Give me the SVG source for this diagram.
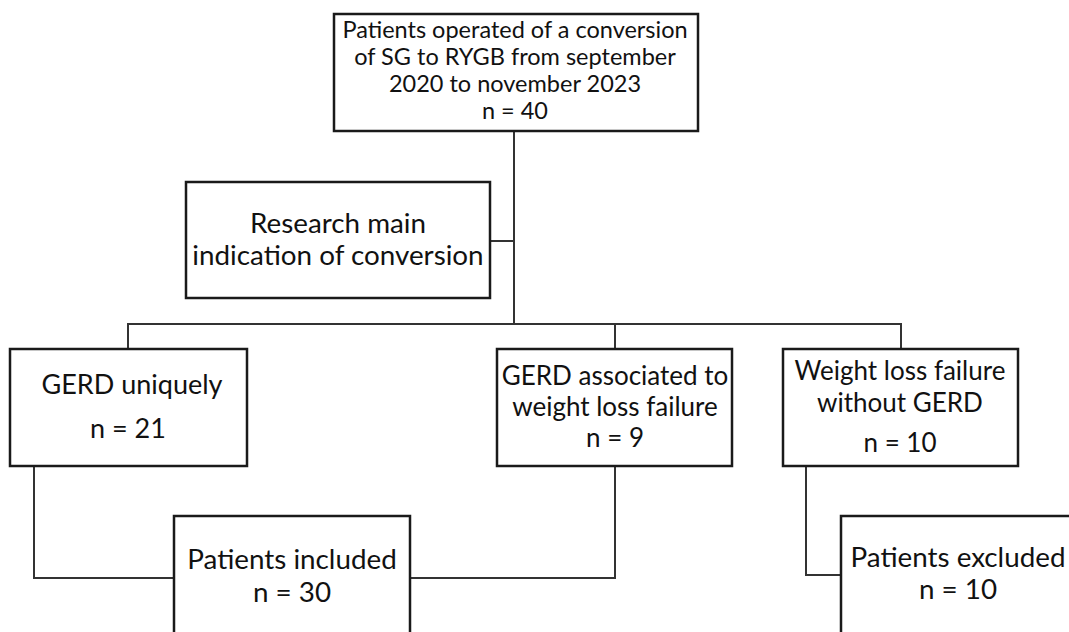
<svg xmlns="http://www.w3.org/2000/svg" width="1069" height="632" viewBox="0 0 1069 632">
<style>
.box{fill:#fff;stroke:#1a1a1a;stroke-width:2.5}
.conn{fill:none;stroke:#333;stroke-width:2}
text{font-family:Lato,"Liberation Sans",sans-serif;fill:#111;text-anchor:middle}
.t-top{font-size:23.5px}
.t-res{font-size:27.8px}
.t-g{font-size:27px}
.t-mid{font-size:26px}
.t-bot{font-size:27.8px}
</style>
<rect width="1069" height="632" fill="#fff"/>
<g id="connectors">
<path class="conn" d="M514 131V324"/>
<path class="conn" d="M490 241H514"/>
<path class="conn" d="M128 349V324H901V349"/>
<path class="conn" d="M615 324V349"/>
<path class="conn" d="M34 466V578H174"/>
<path class="conn" d="M615 466V578H410"/>
<path class="conn" d="M806 466V575H841"/>
</g>
<g id="n-top">
<rect class="box" x="334" y="14" width="364" height="117"/>
<text class="t-top" x="515" y="38">Patients operated of a conversion</text>
<text class="t-top" x="515" y="65">of SG to RYGB from september</text>
<text class="t-top" x="515" y="92">2020 to november 2023</text>
<text class="t-top" x="515" y="119">n = 40</text>
</g>
<g id="n-research">
<rect class="box" x="186" y="182" width="304" height="116"/>
<text class="t-res" x="338" y="233">Research main</text>
<text class="t-res" x="338" y="265">indication of conversion</text>
</g>
<g id="n-gerd">
<rect class="box" x="10" y="349" width="237" height="117"/>
<text class="t-g" x="132" y="394">GERD uniquely</text>
<text class="t-g" x="128" y="438">n = 21</text>
</g>
<g id="n-gerd-wl">
<rect class="box" x="497" y="349" width="235" height="117"/>
<text class="t-mid" x="615" y="385">GERD associated to</text>
<text class="t-mid" x="615" y="416">weight loss failure</text>
<text class="t-mid" x="615" y="447">n = 9</text>
</g>
<g id="n-wl">
<rect class="box" x="783" y="349" width="235" height="117"/>
<text class="t-mid" x="900" y="380">Weight loss failure</text>
<text class="t-mid" x="900" y="412">without GERD</text>
<text class="t-mid" x="900" y="452">n = 10</text>
</g>
<g id="n-included">
<rect class="box" x="174" y="516" width="236" height="130"/>
<text class="t-bot" x="292" y="569">Patients included</text>
<text class="t-bot" x="292" y="602">n = 30</text>
</g>
<g id="n-excluded">
<rect class="box" x="841" y="516" width="240" height="130"/>
<text class="t-bot" x="958" y="567">Patients excluded</text>
<text class="t-bot" x="958" y="599">n = 10</text>
</g>
</svg>
